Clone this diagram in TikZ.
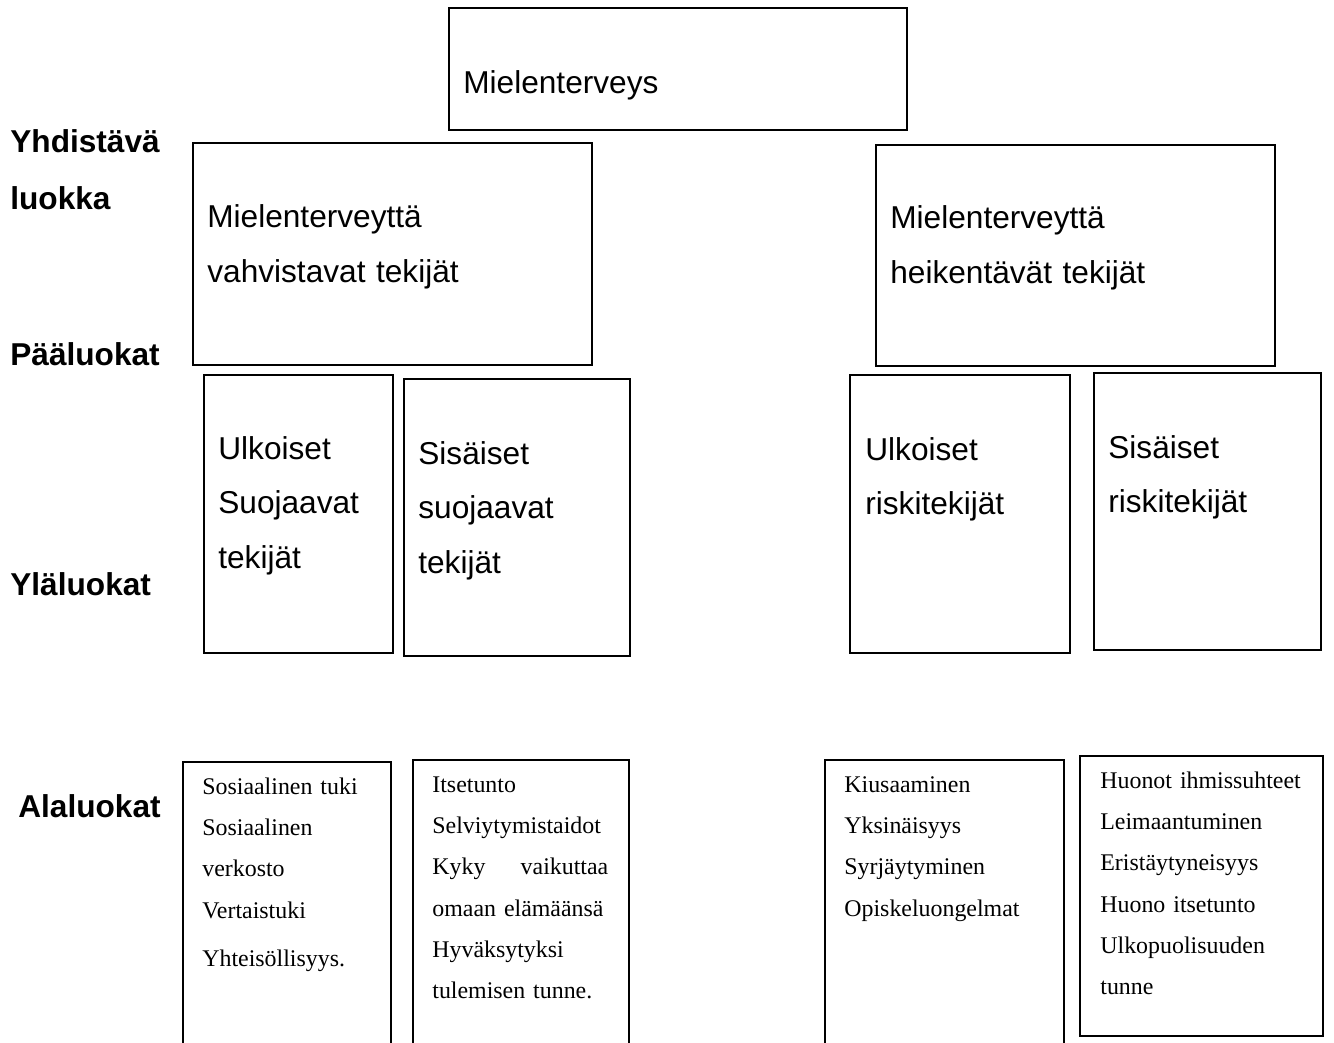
\documentclass[tikz,border=0pt]{standalone}
\usepackage{fontspec}
\setmainfont{Liberation Serif}
\newfontfamily\arialfont{Liberation Sans}
\usetikzlibrary{positioning}
\tikzstyle{box} = [draw, line width=1pt, anchor=north west, inner sep=0pt]
\tikzstyle{boxsize} = [minimum width=#1*0.02cm]
\tikzstyle{big} = [anchor=base west, inner sep=0pt, text width=7cm, align=left, font=\arialfont\fontsize{18}{31.3}\selectfont]
\tikzstyle{level} = [anchor=base west, inner sep=0pt, font=\arialfont\bfseries\fontsize{18}{21}\selectfont]
\tikzstyle{small} = [anchor=base west, inner sep=0pt, text width=5.5cm, align=left, font=\fontsize{13.6}{23.55}\selectfont]

\begin{document}
\begin{tikzpicture}[x=0.02cm, y=-0.02cm]
	\useasboundingbox (0,0) rectangle (1334,1043);
	% levels
	\node[level](yhd) at (10,153){Yhdistävä};
	\node[level](luo) at (10,210){luokka};
	\node[level](paa) at (10,366){Pääluokat};
	\node[level](yla) at (10,595){Yläluokat};
	\node[level](ala) at (18,817){Alaluokat};
	% top
	\node[box, boxsize=458, minimum height=122*0.02cm](top) at (448,7){};
	\node[big](ttop) at (463,94){Mielenterveys};
	% main classes
	\node[box, boxsize=399, minimum height=222*0.02cm](vahv) at (192,142){};
	\node[big](tvahv) at (207,228){Mielenterveyttä\\vahvistavat tekijät};
	\node[box, boxsize=399, minimum height=221*0.02cm](heik) at (875,144){};
	\node[big](theik) at (890,229){Mielenterveyttä\\heikentävät tekijät};
	% upper classes
	\node[box, boxsize=189, minimum height=278*0.02cm](ulks) at (203,374){};
	\node[big](tulks) at (218,459){Ulkoiset\\Suojaavat\\tekijät};
	\node[box, boxsize=226, minimum height=277*0.02cm](siss) at (403,378){};
	\node[big](tsiss) at (418,464){Sisäiset\\suojaavat\\tekijät};
	\node[box, boxsize=220, minimum height=278*0.02cm](ulkr) at (849,374){};
	\node[big](tulkr) at (865,460){Ulkoiset\\riskitekijät};
	\node[box, boxsize=227, minimum height=277*0.02cm](sisr) at (1093,372){};
	\node[big](tsisr) at (1108,458){Sisäiset\\riskitekijät};
	% sub classes
	\node[box, boxsize=208, minimum height=300*0.02cm](sos) at (182,761){};
	\node[small](tsos) at (202,794){Sosiaalinen tuki\\Sosiaalinen\\verkosto\\Vertaistuki\\[3.7pt]Yhteisöllisyys.};
	\node[box, boxsize=216, minimum height=300*0.02cm](its) at (412,759){};
	\node[small, text width=3.52cm](tits) at (432,792){Itsetunto\\Selviytymistaidot\\Kyky\hfill vaikuttaa\\omaan elämäänsä\\Hyväksytyksi\\tulemisen tunne.};
	\node[box, boxsize=239, minimum height=300*0.02cm](kius) at (824,759){};
	\node[small](tkius) at (844,792){Kiusaaminen\\Yksinäisyys\\Syrjäytyminen\\Opiskeluongelmat};
	\node[box, boxsize=243, minimum height=280*0.02cm](huon) at (1079,755){};
	\node[small](thuon) at (1100,788){Huonot ihmissuhteet\\Leimaantuminen\\Eristäytyneisyys\\Huono itsetunto\\Ulkopuolisuuden\\tunne};
\end{tikzpicture}
\end{document}
